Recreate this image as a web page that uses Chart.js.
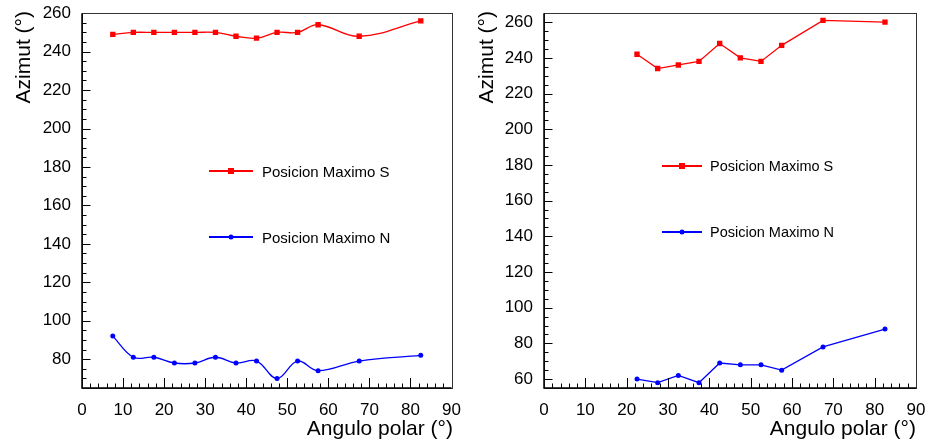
<!DOCTYPE html>
<html>
<head>
<meta charset="utf-8">
<script src="https://cdn.jsdelivr.net/npm/chart.js@4.4.1/dist/chart.umd.min.js"></script>
<style>
  body { margin: 0; background: #fff; font-family: "Liberation Sans", Arial, sans-serif; color: #000; }
  #wrap { position: relative; width: 930px; height: 447px; overflow: hidden; }
  canvas { position: absolute; top: 0; }
  .ytitle { position: absolute; width: 200px; height: 24px; line-height: 24px; font-size: 21px; text-align: right;
            transform: rotate(-90deg); transform-origin: left top; white-space: nowrap; }
  .xtitle { position: absolute; width: 300px; height: 24px; line-height: 24px; font-size: 21px; text-align: right; white-space: nowrap; }
  .leg { position: absolute; display: flex; align-items: center; height: 18px; font-size: 15px; white-space: nowrap; }
  .leg .ln { position: relative; height: 1.5px; }
  .leg .mk { position: absolute; left: 50%; top: 50%; transform: translate(-50%, -50%); }
</style>
</head>
<body>
<div id="wrap">
  <canvas id="graf1" width="465" height="447" style="left:0"></canvas>
  <canvas id="graf2" width="465" height="447" style="left:465px"></canvas>

  <div class="ytitle" style="left:11px; top:211px">Azimut (°)</div>
  <div class="ytitle" style="left:474px; top:211px">Azimut (°)</div>
  <div class="xtitle" style="left:153px; top:416px">Angulo polar (°)</div>
  <div class="xtitle" style="left:616px; top:416px">Angulo polar (°)</div>

  <div class="leg" style="left:209px; top:162px">
    <div class="ln" style="width:44px; background:#f00; margin-right:9px"><div class="mk" style="width:6px; height:6px; background:#f00"></div></div>Posicion Maximo S</div>
  <div class="leg" style="left:209px; top:228px">
    <div class="ln" style="width:44px; background:#00f; margin-right:9px"><div class="mk" style="width:5px; height:5px; border-radius:50%; background:#00f"></div></div>Posicion Maximo N</div>
  <div class="leg" style="left:662px; top:157px; font-size:14.5px">
    <div class="ln" style="width:40px; background:#f00; margin-right:8px"><div class="mk" style="width:6px; height:6px; background:#f00"></div></div>Posicion Maximo S</div>
  <div class="leg" style="left:662px; top:223px; font-size:14.5px">
    <div class="ln" style="width:40px; background:#00f; margin-right:8px"><div class="mk" style="width:5px; height:5px; border-radius:50%; background:#00f"></div></div>Posicion Maximo N</div>
</div>

<script>
// datos
var angulos1 = [7.5, 12.5, 17.5, 22.5, 27.5, 32.5, 37.5, 42.5, 47.5, 52.5, 57.5, 67.5, 82.5];
var maximoS1 = [249, 250, 250, 250, 250, 250, 248, 247, 250, 250, 254, 248, 256];
var maximoN1 = [92, 81, 81, 78, 78, 81, 78, 79, 70, 79, 74, 79, 82];

var angulos2 = [22.5, 27.5, 32.5, 37.5, 42.5, 47.5, 52.5, 57.5, 67.5, 82.5];
var maximoS2 = [242, 234, 236, 238, 248, 240, 238, 247, 261, 260];
var maximoN2 = [60, 58, 62, 58, 69, 68, 68, 65, 78, 88];

var rangoX = [0, 90];
var rangoY1 = [65, 260];
var rangoY2 = [55, 265];

Chart.defaults.color = '#000';
Chart.defaults.font.family = '"Liberation Sans", Arial, sans-serif';

function puntos(xs, ys) {
  return xs.map(function(x, i) { return { x: x, y: ys[i] }; });
}

// marco y ticks hacia dentro, estilo ROOT
var marco = {
  id: 'marco',
  afterDraw: function(chart) {
    var ctx = chart.ctx, a = chart.chartArea, sx = chart.scales.x, sy = chart.scales.y;
    ctx.save();
    ctx.strokeStyle = '#000';
    ctx.lineWidth = 1;
    sx.ticks.forEach(function(t) {
      var px = Math.round(sx.getPixelForValue(t.value)) + 0.5;
      var l = t.value % 10 === 0 ? 10 : 4.5;
      ctx.beginPath(); ctx.moveTo(px, a.bottom); ctx.lineTo(px, a.bottom - l); ctx.stroke();
    });
    sy.ticks.forEach(function(t) {
      var py = Math.round(sy.getPixelForValue(t.value)) + 0.5;
      var l = t.value % 20 === 0 ? 8.5 : 4.5;
      ctx.beginPath(); ctx.moveTo(a.left, py); ctx.lineTo(a.left + l, py); ctx.stroke();
    });
    ctx.strokeStyle = '#333';
    ctx.strokeRect(Math.round(a.left) + 0.5, Math.round(a.top) + 0.5, Math.round(a.right - a.left), Math.round(a.bottom - a.top));
    ctx.strokeStyle = '#000';
    ctx.lineWidth = 1.5;
    ctx.beginPath();
    ctx.moveTo(a.left, a.top); ctx.lineTo(a.left, a.bottom); ctx.lineTo(a.right, a.bottom);
    ctx.stroke();
    ctx.restore();
  }
};

function crearGrafico(id, xs, s, n, rangoY, tension, anchoY, derecha) {
  return new Chart(document.getElementById(id), {
    type: 'line',
    data: {
      datasets: [{
        label: 'Posicion Maximo S',
        data: puntos(xs, s),
        borderColor: '#ff0000',
        backgroundColor: '#ff0000',
        borderWidth: 1.3,
        pointStyle: 'rect',
        pointRadius: 3.8,
        pointBorderWidth: 0,
        tension: tension
      }, {
        label: 'Posicion Maximo N',
        data: puntos(xs, n),
        borderColor: '#0000ff',
        backgroundColor: '#0000ff',
        borderWidth: 1.3,
        pointStyle: 'circle',
        pointRadius: 2.5,
        pointBorderWidth: 0,
        tension: tension
      }]
    },
    options: {
      responsive: false,
      animation: false,
      events: [],
      layout: { padding: { left: 0, right: derecha, top: 11, bottom: 0 } },
      plugins: { legend: { display: false }, tooltip: { enabled: false } },
      scales: {
        x: {
          type: 'linear',
          min: rangoX[0],
          max: rangoX[1],
          grid: { display: false },
          border: { display: false },
          ticks: {
            stepSize: 2,
            autoSkip: false,
            maxRotation: 0,
            padding: 4,
            font: { size: 17 },
            callback: function(v) { return v % 10 === 0 ? v : ''; }
          },
          afterFit: function(scale) { scale.height = 59; }
        },
        y: {
          min: rangoY[0],
          max: rangoY[1],
          grid: { display: false },
          border: { display: false },
          ticks: {
            stepSize: 5,
            autoSkip: false,
            padding: 3,
            font: { size: 17 },
            callback: function(v) { return v % 20 === 0 ? v : ''; }
          },
          afterFit: function(scale) { scale.width = anchoY; }
        }
      }
    },
    plugins: [marco]
  });
}

crearGrafico('graf1', angulos1, maximoS1, maximoN1, rangoY1, 0.4, 82, 11);
crearGrafico('graf2', angulos2, maximoS2, maximoN2, rangoY2, 0, 79, 14);
</script>
</body>
</html>
